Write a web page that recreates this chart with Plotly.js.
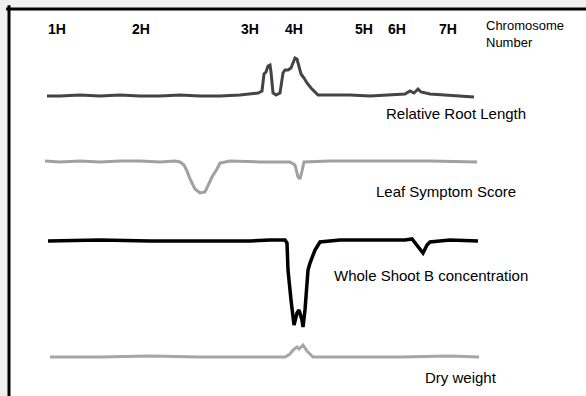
<!DOCTYPE html>
<html>
<head>
<meta charset="utf-8">
<script src="https://cdn.plot.ly/plotly-3.0.1.min.js"></script>
<style>html,body{margin:0;padding:0;background:#f0f0f0;}#chart{width:586px;height:396px;}</style>
</head>
<body>
<div id="chart"></div>
<script>
// Chromosome labels along the genome map (position in arbitrary map units)
const chromLabels = ["1H", "2H", "3H", "4H", "5H", "6H", "7H"];
const chromPos = [10, 94, 203, 247, 317, 350, 401];

// Trait names
const traitNames = ["Relative Root Length", "Leaf Symptom Score", "Whole Shoot B concentration", "Dry weight"];

// Relative Root Length profile
const rootPos = [0,13,33,53,73,93,113,133,153,173,193,203,211,215,217,219,221,223,224,226,229,233,236,238,241,244,246,248,250,252,254,257,260,264,268,271,283,303,323,343,358,363,367,371,374,383,398,413,427];
const rootVal = [0,0,1,0,1,0,0,1,0,0,1,2,3,5,22,24,30,31,24,3,1,3,23,26,26,28,34,38,37,30,22,18,13,8,4,1,1,1,0,1,2,5,3,7,4,2,1,0,-1];

// Leaf Symptom Score profile
const leafPos = [-2,13,33,53,73,93,113,128,133,137,140,143,148,153,158,161,165,170,173,183,213,243,248,251,253,255,257,283,333,383,430];
const leafVal = [1,0,1,0,1,1,0,1,0,-3,-9,-17,-27,-31,-30,-24,-15,-7,-1,1,0,0,-3,-15,-17,-9,0,1,1,1,0];

// Whole Shoot B concentration profile
const shootPos = [1,53,103,153,203,223,238,240,241,244,246,247,250,252,255,256,258,260,261,263,268,273,293,333,358,365,370,376,380,383,403,431];
const shootVal = [0,1,0,0,0,1,1,-2,-29,-59,-79,-84,-72,-69,-79,-86,-69,-46,-29,-22,-9,-1,1,1,1,2,-4,-12,-4,-1,1,0];

// Dry weight profile
const dryPos = [3,53,103,153,203,238,243,246,250,252,256,260,263,266,303,353,403,432];
const dryVal = [0,0,1,0,0,0,3,7,10,8,12,6,3,0,0,0,1,0];

// Layout: vertical offset of each profile's baseline
const offsets = [300, 234, 155, 39];
const colors = ["#444444", "#a0a0a0", "#000000", "#a6a6a6"];
const widths = [3, 3, 3.5, 3];

const series = [[rootPos, rootVal], [leafPos, leafVal], [shootPos, shootVal], [dryPos, dryVal]];
const traces = series.map((s, i) => ({
  type: "scatter", mode: "lines",
  x: s[0], y: s[1].map(v => v + offsets[i]),
  line: {color: colors[i], width: widths[i], shape: "linear"},
  hoverinfo: "skip", showlegend: false
}));

const fam = "Liberation Sans, Arial, sans-serif";
const labelFont = {family: fam, size: 15, color: "#000"};
const annotations = [];
chromLabels.forEach((t, i) => annotations.push({
  x: chromPos[i], y: 367, xref: "x", yref: "y", text: "<b>" + t + "</b>",
  showarrow: false, xanchor: "center", yanchor: "middle", font: {family: fam, size: 14, color: "#000"}
}));
annotations.push({x: 437, y: 362, xref: "x", yref: "y", text: "Chromosome<br>Number", align: "left",
  showarrow: false, xanchor: "left", yanchor: "middle",
  font: {family: fam, size: 13, color: "#000"}});
const labelX = [337, 327, 285, 376];
const labelY = [283, 205, 121, 19];
traitNames.forEach((t, i) => annotations.push({
  x: labelX[i], y: labelY[i], xref: "x", yref: "y", text: t,
  showarrow: false, xanchor: "left", yanchor: "middle", font: labelFont
}));

const layout = {
  width: 586, height: 396,
  margin: {l: 9, r: 0, t: 9, b: 0, pad: 0},
  paper_bgcolor: "#f0f0f0", plot_bgcolor: "#ffffff",
  xaxis: {range: [-38, 539], visible: false, fixedrange: true},
  yaxis: {range: [0, 387], visible: false, fixedrange: true},
  annotations: annotations,
  shapes: [
    {type: "line", xref: "paper", yref: "paper", x0: 0, x1: 0, y0: 0, y1: 1.01, line: {color: "#000", width: 3}},
    {type: "line", xref: "paper", yref: "paper", x0: -0.005, x1: 1, y0: 1, y1: 1, line: {color: "#000", width: 3}}
  ]
};

Plotly.newPlot("chart", traces, layout, {staticPlot: true, displayModeBar: false});
</script>
</body>
</html>
